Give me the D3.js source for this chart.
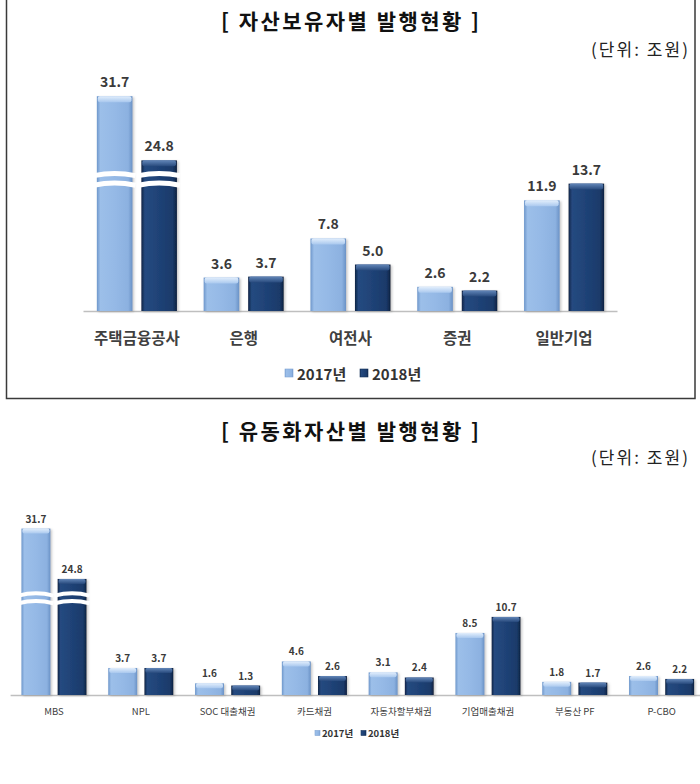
<!DOCTYPE html>
<html>
<head>
<meta charset="utf-8">
<script src="https://cdn.jsdelivr.net/npm/d3@7"></script>
<style>
  html, body { margin: 0; padding: 0; background: #fff; }
  svg { display: block; }
  text { font-family: "Noto Sans CJK KR", "Noto Sans", sans-serif; }
</style>
</head>
<body>
<svg id="chart" width="700" height="784"></svg>
<script>
// ---------- data ----------
const seriesNames = ["2017년", "2018년"];

const topTitle = "[ 자산보유자별 발행현황 ]";
const topCategories = ["주택금융공사", "은행", "여전사", "증권", "일반기업"];
const top2017 = [31.7, 3.6, 7.8, 2.6, 11.9];
const top2018 = [24.8, 3.7, 5.0, 2.2, 13.7];

const bottomTitle = "[ 유동화자산별 발행현황 ]";
const bottomCategories = ["MBS", "NPL", "SOC 대출채권", "카드채권", "자동차할부채권", "기업매출채권", "부동산 PF", "P-CBO"];
const bottom2017 = [31.7, 3.7, 1.6, 4.6, 3.1, 8.5, 1.8, 2.6];
const bottom2018 = [24.8, 3.7, 1.3, 2.6, 2.4, 10.7, 1.7, 2.2];

const unitLabel = "(단위: 조원)";

// ---------- drawing ----------
const svg = d3.select("#chart");
const defs = svg.append("defs");

function hGrad(id, stops) {
  const g = defs.append("linearGradient").attr("id", id)
    .attr("x1", "0%").attr("x2", "100%").attr("y1", "0%").attr("y2", "0%");
  stops.forEach(s => g.append("stop").attr("offset", s[0]).attr("stop-color", s[1]));
}
function vGrad(id, stops) {
  const g = defs.append("linearGradient").attr("id", id)
    .attr("x1", "0%").attr("x2", "0%").attr("y1", "0%").attr("y2", "100%");
  stops.forEach(s => g.append("stop").attr("offset", s[0]).attr("stop-color", s[1]));
}
hGrad("body0", [["0%", "#6E97CB"], ["10%", "#9CBFE9"], ["50%", "#95B9E6"], ["88%", "#8CB1E0"], ["100%", "#6A92C6"]]);
hGrad("body1", [["0%", "#0E2344"], ["10%", "#254A80"], ["50%", "#1F4276"], ["88%", "#1A3A6A"], ["100%", "#0D2140"]]);
vGrad("cap0", [["0%", "#E2EEFC"], ["100%", "#A9C8EE"]]);
vGrad("cap1", [["0%", "#6286B8"], ["100%", "#27497C"]]);
const sh = defs.append("filter").attr("id", "shadow").attr("x", "-20%").attr("y", "-20%").attr("width", "150%").attr("height", "150%");
sh.append("feDropShadow").attr("dx", 1.5).attr("dy", 1).attr("stdDeviation", 1)
  .attr("flood-color", "#808080").attr("flood-opacity", 0.45);

function drawChart(cfg) {
  const g = svg.append("g");
  const x0 = d3.scaleBand().domain(cfg.categories).range(cfg.xRange)
    .paddingInner(0.25).paddingOuter(0.125);
  const x1 = d3.scaleBand().domain(seriesNames).range([0, x0.bandwidth()]).paddingInner(0.2);
  const k = cfg.pxPerUnit;
  const bLow = cfg.breakLow, bHigh = cfg.breakLow + cfg.cut;
  const yBreak = cfg.baseline - bLow * k;
  // broken value axis (piecewise linear)
  const y = d3.scaleLinear()
    .domain([0, bLow, bHigh, 40])
    .range([cfg.baseline, yBreak, yBreak, yBreak - (40 - bHigh) * k]);

  // title + unit
  g.append("text").attr("x", 350).attr("y", cfg.titleY)
    .attr("text-anchor", "middle").attr("dominant-baseline", "central")
    .attr("font-size", 21).attr("font-weight", 700).attr("fill", "#111")
    .attr("textLength", 258).attr("lengthAdjust", "spacing")
    .text(cfg.title);
  g.append("text").attr("x", 688).attr("y", cfg.unitY)
    .attr("text-anchor", "end").attr("dominant-baseline", "central")
    .attr("font-size", 17).attr("fill", "#222")
    .attr("textLength", 97).attr("lengthAdjust", "spacing")
    .text(unitLabel);

  // axis line
  g.append("line").attr("x1", cfg.xRange[0]).attr("x2", cfg.xRange[1])
    .attr("y1", cfg.baseline + 0.5).attr("y2", cfg.baseline + 0.5)
    .attr("stroke", "#BFBFBF").attr("stroke-width", 1.5);

  const rows = cfg.categories.map((c, i) => ({ c, vals: [cfg.s2017[i], cfg.s2018[i]] }));
  const groups = g.selectAll("g.grp").data(rows).join("g").attr("class", "grp")
    .attr("transform", d => `translate(${x0(d.c)},0)`);

  const bars = groups.selectAll("g.bar")
    .data(d => d.vals.map((v, j) => ({ v, s: seriesNames[j], j })))
    .join("g").attr("class", "bar");

  bars.append("rect")
    .attr("x", d => x1(d.s)).attr("width", x1.bandwidth())
    .attr("y", d => y(d.v)).attr("height", d => cfg.baseline - y(d.v))
    .attr("fill", d => `url(#body${d.j})`).attr("filter", "url(#shadow)");
  bars.append("rect")
    .attr("x", d => x1(d.s) + 1).attr("width", x1.bandwidth() - 2)
    .attr("y", d => y(d.v)).attr("height", d => Math.min(cfg.cap, cfg.baseline - y(d.v)))
    .attr("rx", 2)
    .attr("fill", d => `url(#cap${d.j})`);

  // value labels
  bars.append("text")
    .attr("x", d => x1(d.s) + x1.bandwidth() / 2)
    .attr("y", d => y(d.v) - cfg.labelGap)
    .attr("text-anchor", "middle")
    .attr("font-size", cfg.valueFont).attr("font-weight", 700).attr("fill", "#3A3A3A")
    .text(d => d.v.toFixed(1));

  // axis break marks (white wavy gaps) on bars that exceed the break
  const bw = x1.bandwidth();
  bars.filter(d => d.v > bHigh).each(function (d) {
    const sel = d3.select(this);
    const xs = x1(d.s) - 3, xe = x1(d.s) + bw + 3, xm = x1(d.s) + bw / 2;
    [-cfg.breakOff, cfg.breakOff].forEach(off => {
      const yy = yBreak + off;
      sel.append("path")
        .attr("d", `M${xs},${yy + 1.5} Q${xm},${yy - 3} ${xe},${yy + 1.5}`)
        .attr("fill", "none").attr("stroke", "#fff").attr("stroke-width", cfg.breakW);
    });
  });

  // category labels
  g.selectAll("text.cat").data(cfg.categories).join("text").attr("class", "cat")
    .attr("x", d => x0(d) + x0.bandwidth() / 2).attr("y", cfg.catY)
    .attr("text-anchor", "middle").attr("dominant-baseline", "central")
    .attr("font-size", cfg.catFont).attr("font-weight", cfg.catWeight).attr("fill", "#404040")
    .text(d => d);

  // legend
  const lg = g.selectAll("g.leg").data(seriesNames).join("g").attr("class", "leg")
    .attr("transform", (d, i) => `translate(${cfg.legX[i]},${cfg.legY})`);
  lg.append("rect").attr("x", 0).attr("y", -cfg.legSq / 2).attr("width", cfg.legSq).attr("height", cfg.legSq)
    .attr("fill", (d, i) => `url(#body${i})`).attr("stroke", (d, i) => i ? "#16325A" : "#7FA3D3").attr("stroke-width", 0.6);
  lg.append("text").attr("x", cfg.legSq + cfg.legPad).attr("y", 0).attr("dominant-baseline", "central")
    .attr("font-size", cfg.legFont).attr("font-weight", 700).attr("fill", "#333")
    .text(d => d);
}

// top chart border
svg.append("rect").attr("x", 6.5).attr("y", -3).attr("width", 688.5).attr("height", 401.5)
  .attr("fill", "none").attr("stroke", "#3A3A3A").attr("stroke-width", 1.5);

drawChart({
  title: topTitle, titleY: 20, unitY: 48,
  categories: topCategories, s2017: top2017, s2018: top2018,
  xRange: [83.5, 617.5], baseline: 311, pxPerUnit: 9.3, breakLow: 14.2, cut: 8.6,
  breakOff: 4.8, breakW: 5, cap: 6,
  valueFont: 14, labelGap: 9,
  catY: 337, catFont: 15.5, catWeight: 700,
  legX: [285, 360], legY: 373, legSq: 8, legPad: 4, legFont: 15
});

drawChart({
  title: bottomTitle, titleY: 430, unitY: 456,
  categories: bottomCategories, s2017: bottom2017, s2018: bottom2018,
  xRange: [10.6, 705], baseline: 695, pxPerUnit: 7.3, breakLow: 13.3, cut: 8.9,
  breakOff: 3.8, breakW: 4, cap: 5,
  valueFont: 10, labelGap: 6,
  catY: 711, catFont: 9.5, catWeight: 400,
  legX: [315, 361], legY: 733, legSq: 5, legPad: 2, legFont: 9.5
});
</script>
</body>
</html>
